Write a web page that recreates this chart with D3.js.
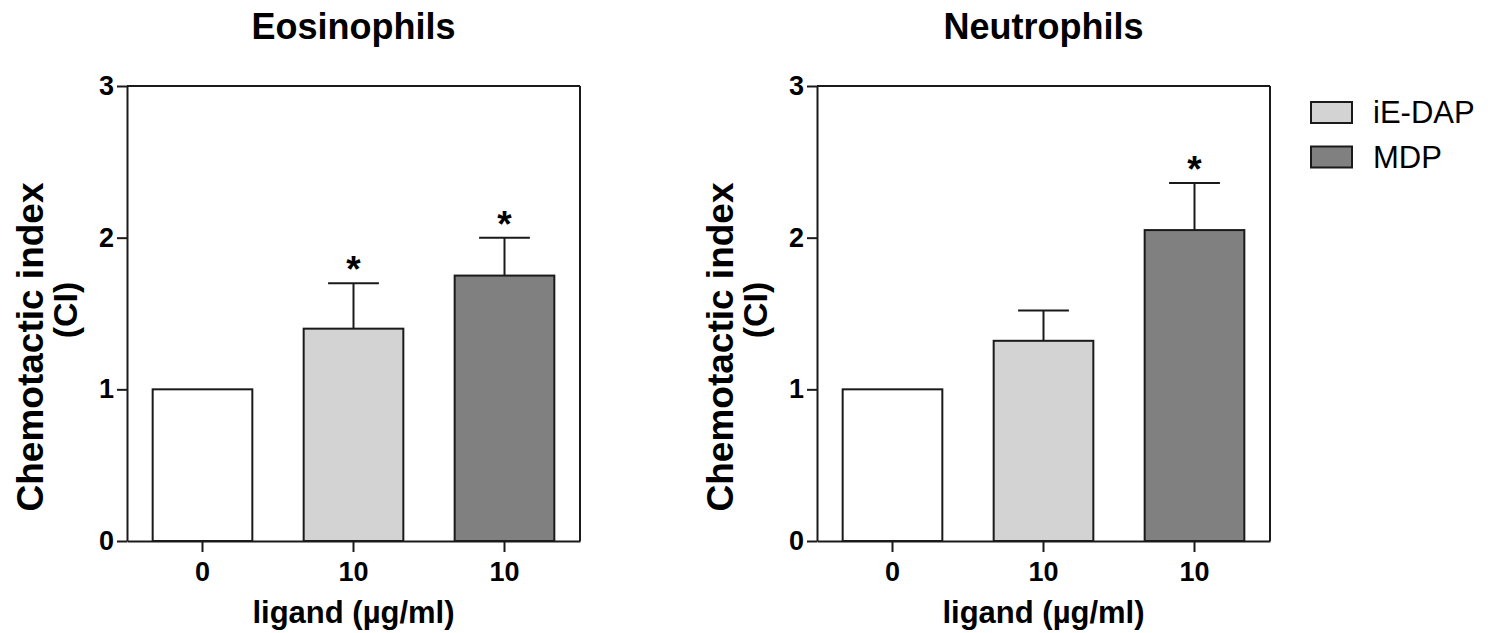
<!DOCTYPE html>
<html>
<head>
<meta charset="utf-8">
<script src="https://cdn.jsdelivr.net/npm/d3@7"></script>
<style>
  body { margin: 0; background: #fff; }
  text { font-family: "Liberation Sans", Arial, sans-serif; }
</style>
</head>
<body>
<div id="chart"></div>
<script>
// data
const doses = ["0", "10", "10"]
const treatments = ["control", "iE-DAP", "MDP"]
const yTicks = [0, 1, 2, 3]

const eosMeans = [1.0, 1.40, 1.75]
const eosErrors = [0, 0.30, 0.25]
const eosSig = [false, true, true]

const neuMeans = [1.0, 1.32, 2.05]
const neuErrors = [0, 0.20, 0.31]
const neuSig = [false, false, true]

const legendLabels = ["iE-DAP", "MDP"]

const W = 1488, H = 633
const ink = "#1a1a1a"

const svg = d3.select("#chart").append("svg")
    .attr("width", W)
    .attr("height", H)

const fill = d3.scaleOrdinal()
    .domain(treatments)
    .range(["#ffffff", "#d3d3d3", "#808080"])

const y = d3.scaleLinear().domain([0, 3]).range([541, 86])

const drawPanel = (left, title, means, errors, sig) => {
    const plotW = 453
    const x = d3.scaleBand()
        .domain(d3.range(means.length))
        .range([0, plotW])
        .paddingInner(0.34)
        .paddingOuter(0.17)

    const g = svg.append("g").attr("transform", `translate(${left},0)`)

    // title
    g.append("text")
        .attr("x", plotW / 2)
        .attr("y", 39)
        .attr("text-anchor", "middle")
        .style("font-size", "36px")
        .style("font-weight", "bold")
        .text(title)

    // y label (two lines)
    g.append("text")
        .attr("transform", `translate(-84,347) rotate(-90)`)
        .attr("text-anchor", "middle")
        .style("font-size", "37px")
        .style("font-weight", "bold")
        .text("Chemotactic index")
    g.append("text")
        .attr("transform", `translate(-50,310) rotate(-90)`)
        .attr("text-anchor", "middle")
        .style("font-size", "34px")
        .style("font-weight", "bold")
        .text("(CI)")

    // bars
    g.selectAll(".bar")
        .data(means)
        .join("rect")
        .attr("class", "bar")
        .attr("x", (d, i) => x(i))
        .attr("y", d => y(d))
        .attr("width", x.bandwidth())
        .attr("height", d => y(0) - y(d))
        .attr("fill", (d, i) => fill(treatments[i]))
        .attr("stroke", ink)
        .attr("stroke-width", 2)

    // upper error bars
    const capW = x.bandwidth() * 0.51
    means.forEach((m, i) => {
        if (errors[i] <= 0) return
        const cx = x(i) + x.bandwidth() / 2
        g.append("line")
            .attr("x1", cx).attr("x2", cx)
            .attr("y1", y(m)).attr("y2", y(m + errors[i]))
            .attr("stroke", ink).attr("stroke-width", 2)
        g.append("line")
            .attr("x1", cx - capW / 2).attr("x2", cx + capW / 2)
            .attr("y1", y(m + errors[i])).attr("y2", y(m + errors[i]))
            .attr("stroke", ink).attr("stroke-width", 2)
        if (sig[i]) {
            g.append("text")
                .attr("x", cx)
                .attr("y", y(m + errors[i]) - 1)
                .attr("text-anchor", "middle")
                .style("font-size", "37px")
                .style("font-weight", "bold")
                .text("*")
        }
    })

    // frame: top and right
    g.append("line")
        .attr("x1", 0).attr("x2", plotW)
        .attr("y1", y(3)).attr("y2", y(3))
        .attr("stroke", ink).attr("stroke-width", 2)
    g.append("line")
        .attr("x1", plotW).attr("x2", plotW)
        .attr("y1", y(3)).attr("y2", y(0))
        .attr("stroke", ink).attr("stroke-width", 2)

    // axes
    const yAxis = g.append("g")
        .call(d3.axisLeft(y).tickValues(yTicks).tickFormat(d3.format("d"))
            .tickSize(10).tickSizeOuter(0).tickPadding(3))
    const xAxis = g.append("g")
        .attr("transform", `translate(0,${y(0)})`)
        .call(d3.axisBottom(x).tickFormat(i => doses[i])
            .tickSize(11).tickSizeOuter(0).tickPadding(10))

    for (const ax of [yAxis, xAxis]) {
        ax.selectAll("path, line").attr("stroke", ink).attr("stroke-width", 2)
        ax.selectAll("text")
            .attr("fill", "#000")
            .style("font-size", "27px")
            .style("font-weight", "bold")
            .style("font-family", "'Liberation Sans', Arial, sans-serif")
    }

    // x label
    g.append("text")
        .attr("x", plotW / 2)
        .attr("y", 623)
        .attr("text-anchor", "middle")
        .style("font-size", "31px")
        .style("font-weight", "bold")
        .text("ligand (µg/ml)")
}

drawPanel(127, "Eosinophils", eosMeans, eosErrors, eosSig)
drawPanel(817, "Neutrophils", neuMeans, neuErrors, neuSig)

// legend
const legend = svg.append("g").attr("transform", "translate(1311,102)")
legendLabels.forEach((lab, i) => {
    legend.append("rect")
        .attr("x", 0)
        .attr("y", i * 44.5)
        .attr("width", 41)
        .attr("height", 21)
        .attr("fill", fill(lab))
        .attr("stroke", ink)
        .attr("stroke-width", 2)
    legend.append("text")
        .attr("x", 62)
        .attr("y", i * 44.5 + 21)
        .style("font-size", "31px")
        .text(lab)
})
</script>
</body>
</html>
